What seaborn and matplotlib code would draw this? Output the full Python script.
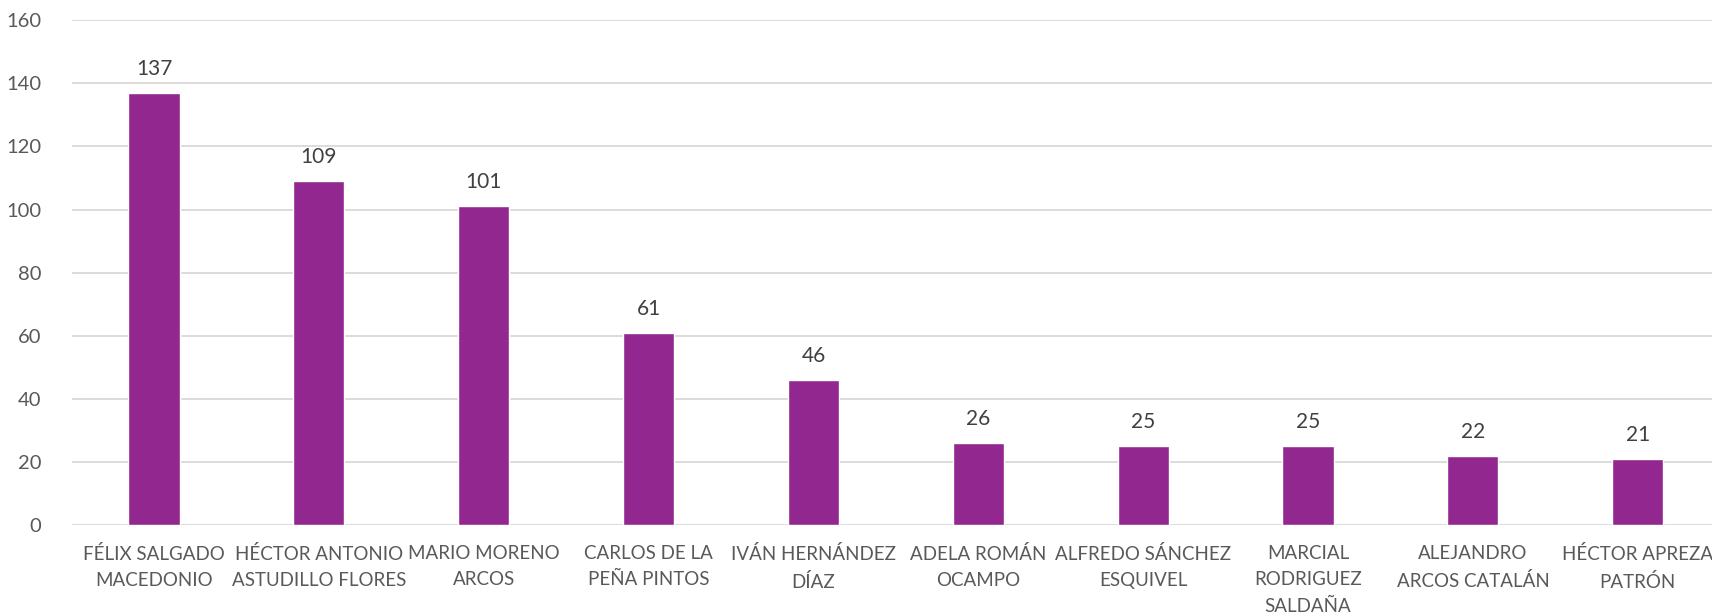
import matplotlib
matplotlib.use("Agg")
import matplotlib.pyplot as plt
import seaborn as sns
import pandas as pd

categories = [
    "FÉLIX SALGADO\nMACEDONIO",
    "HÉCTOR ANTONIO\nASTUDILLO FLORES",
    "MARIO MORENO\nARCOS",
    "CARLOS DE LA\nPEÑA PINTOS",
    "IVÁN HERNÁNDEZ\nDÍAZ",
    "ADELA ROMÁN\nOCAMPO",
    "ALFREDO SÁNCHEZ\nESQUIVEL",
    "MARCIAL\nRODRIGUEZ\nSALDAÑA",
    "ALEJANDRO\nARCOS CATALÁN",
    "HÉCTOR APREZA\nPATRÓN",
]
values = [137, 109, 101, 61, 46, 26, 25, 25, 22, 21]
yticks = [0, 20, 40, 60, 80, 100, 120, 140, 160]

sns.set_style("white")
plt.rcParams['font.family'] = ['Lato', 'DejaVu Sans']
text_color = "#595959"

df = pd.DataFrame({"cat": categories, "val": values})

fig = plt.figure(figsize=(17.12, 6.12), dpi=100)
ax = fig.add_axes([0.0418, 0.142, 0.963, 0.825])
sns.barplot(data=df, x="cat", y="val", color="#92278F", width=0.31, ax=ax,
            saturation=1)

ax.set_ylim(0, 160)
ax.set_yticks(yticks)
ax.set_xlim(-0.5, len(categories) - 0.5)
ax.yaxis.grid(True, color="#D9D9D9", linewidth=1.3)
ax.set_axisbelow(True)
for s in ax.spines.values():
    s.set_visible(False)
ax.set_xlabel("")
ax.set_ylabel("")
ax.tick_params(axis="y", length=0, colors=text_color, labelsize=14.5, pad=22)
ax.tick_params(axis="x", length=0, colors=text_color, labelsize=13.5, pad=14)
for lbl in ax.get_xticklabels():
    lbl.set_linespacing(1.68)

for i, v in enumerate(values):
    ax.annotate(str(v), (i, v), xytext=(0, 10), textcoords="offset points",
                ha="center", va="bottom", fontsize=15, color="#404040")

fig.savefig("out.png", dpi=100)
